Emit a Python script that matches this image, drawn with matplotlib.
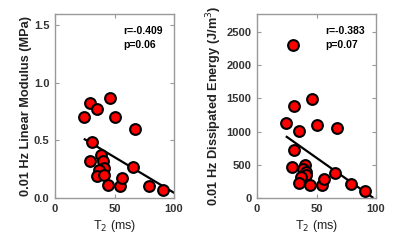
import numpy as np
import matplotlib.pyplot as plt

plt.rcParams['font.family'] = ['Liberation Sans', 'DejaVu Sans']

# left panel: linear modulus
t2_mod = [24.6, 29, 35, 46.5, 50, 67.5, 31, 29.5, 39, 40.3, 41, 37, 35, 41.5, 44.5, 55, 56.5, 65.5, 79, 91]
modulus = [0.70, 0.83, 0.77, 0.87, 0.70, 0.60, 0.49, 0.32, 0.37, 0.32, 0.26, 0.24, 0.19, 0.20, 0.11, 0.10, 0.17, 0.27, 0.10, 0.07]
fit_mod_x = [25, 100]
fit_mod_y = [0.51, 0.045]

# right panel: dissipated energy
t2_en = [30, 31.4, 46.5, 24.6, 35, 50, 67.5, 31, 29.5, 40.3, 39, 41, 41.5, 37, 35, 44.5, 55, 56.5, 65.5, 79, 91]
energy = [2300, 1380, 1490, 1130, 1010, 1100, 1050, 720, 460, 490, 430, 390, 340, 320, 230, 190, 190, 280, 380, 210, 100]
fit_en_x = [25, 97]
fit_en_y = [920, 10]

fig = plt.figure(figsize=(4, 2.45), dpi=100)
ax1 = fig.add_axes([0.1375, 0.192, 0.2975, 0.751])
ax2 = fig.add_axes([0.6425, 0.192, 0.2975, 0.751])

panels = [
    (ax1, t2_mod, modulus, fit_mod_x, fit_mod_y, 'r=-0.409\np=0.06',
     '0.01 Hz Linear Modulus (MPa)', (0, 1.6), [0, 0.5, 1.0, 1.5], '%.1f'),
    (ax2, t2_en, energy, fit_en_x, fit_en_y, 'r=-0.383\np=0.07',
     '0.01 Hz Dissipated Energy (J/m$^3$)', (0, 2770), [0, 500, 1000, 1500, 2000, 2500], '%d'),
]

for ax, x, y, fx, fy, stats, ylabel, ylim, yticks, fmt in panels:
    ax.plot(fx, fy, color='black', lw=1.6, zorder=2)
    ax.scatter(x, y, s=60, c='red', edgecolors='black', linewidths=1.5, zorder=3)
    ax.set_xlim(0, 100)
    ax.set_ylim(*ylim)
    ax.set_xticks([0, 50, 100])
    ax.set_yticks(yticks)
    ax.set_yticklabels([fmt % v for v in yticks])
    ax.tick_params(direction='in', top=True, right=True, length=3, color='#999999',
                   labelsize=8, pad=4)
    for lbl in ax.get_xticklabels() + ax.get_yticklabels():
        lbl.set_fontweight('bold')
        lbl.set_color('#333333')
    for s in ax.spines.values():
        s.set_color('#999999')
        s.set_linewidth(1.0)
    ax.set_ylabel(ylabel, fontsize=9.2, fontweight='bold', color='#222222', labelpad=1.5)
    ax.set_xlabel('T$_2$ (ms)', fontsize=9, color='#222222', labelpad=3)
    ax.text(0.57, 0.87, stats, transform=ax.transAxes, fontsize=7.5, fontweight='bold',
            va='center', linespacing=1.5)

fig.savefig('out.png', dpi=100)
